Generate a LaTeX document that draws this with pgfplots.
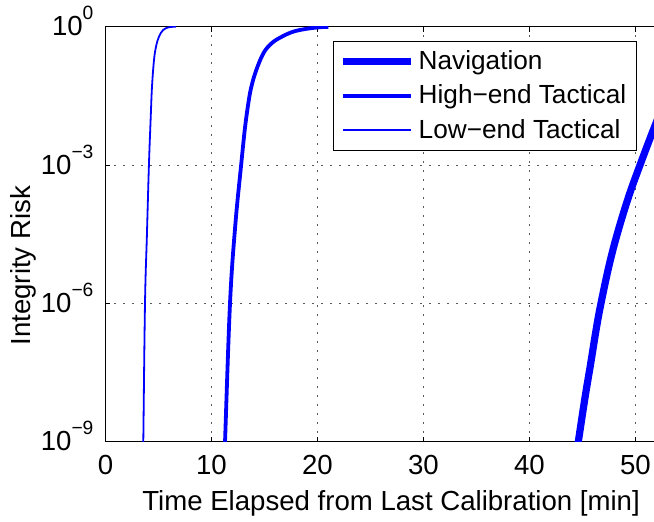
\documentclass[border=0pt]{standalone}
\usepackage{pgfplots}
\pgfplotsset{compat=1.18}
\usepackage{fontspec}
\setmainfont{Liberation Sans}
\newcommand\fs{\fontsize{13.8}{16.5}\selectfont}
\newcommand\sups[1]{\raisebox{8pt}{\fontsize{9.6}{10}\selectfont #1}}
\definecolor{mblue}{RGB}{0,0,255}
\begin{document}
\begin{tikzpicture}
\begin{axis}[
  scale only axis,
  width=286.2pt, height=207.5pt,
  xmin=0, xmax=54,
  ymode=log, ymin=1e-9, ymax=1,
  xtick={0,10,20,30,40,50},
  ytick={1e-9,1e-6,1e-3,1},
  yticklabels={10\sups{−9},10\sups{−6},10\sups{−3},10\sups{0}},
  minor ytick={},
  /pgf/number format/assume math mode=true,
  tick label style={font=\fs},
  xticklabel style={yshift=-3.2pt},
  yticklabel style={anchor=base east, yshift=-4.6pt, xshift=-2.5pt},
  major tick length=2.5pt,
  tick style={black, line width=0.5pt},
  axis line style={line width=0.6pt},
  grid=major,
  major grid style={black!65, line width=0.5pt, dash pattern=on 0.6pt off 3.9pt},
  xlabel={Time Elapsed from Last Calibration [min]},
  ylabel={Integrity Risk},
  label style={font=\fs},
  xlabel style={at={(axis description cs:0.499,-0.148)}, anchor=center},
  ylabel style={at={(axis description cs:-0.144,0.424)}, anchor=center, rotate=0},
  legend style={at={(axis cs:21.46,0.49)}, anchor=north west,
    font=\fontsize{13.1}{15.7}\selectfont,
    draw=black, line width=0.6pt, inner xsep=3pt, inner ysep=2.5pt, row sep=2.2pt,
    cells={anchor=west}},
  legend image code/.code={\draw[#1] (0pt,0pt) -- (31pt,0pt); \path (0pt,0pt) -- (34pt,0pt);},
  clip=true,
]
\addplot[mblue, line width=3.6pt, smooth, tension=0.6] coordinates {
 (43.95,1e-10) (44.61,1e-9) (45.25,9.3e-9) (45.78,5e-8) (46.28,2.6e-7)
 (46.72,9.3e-7) (47.51,6.6e-6) (48.33,3.5e-5) (49.40,2.2e-4) (50.50,1.1e-3)
 (51.69,5.8e-3) (52.6,1.9e-2) (53.5,5.6e-2)
};
\addlegendentry{Navigation}
\addplot[mblue, line width=1.9pt, smooth, tension=0.6] coordinates {
 (11.12,1e-10) (11.28,1e-9) (11.75,1e-6) (12.25,5.0e-5) (12.80,1e-3)
 (13.16,6.3e-3) (13.48,2.19e-2) (13.73,0.046) (14.17,0.105) (14.89,0.263)
 (15.68,0.437) (16.62,0.603) (17.72,0.78) (18.98,0.90) (20.24,0.973) (21.02,0.991)
};
\addlegendentry{High−end Tactical}
\addplot[mblue, line width=0.9pt, smooth, tension=0.6] coordinates {
 (3.517,1e-10) (3.57,1e-9) (3.73,1e-6) (3.91,3e-5) (4.10,1e-3)
 (4.26,9.5e-3) (4.39,0.050) (4.58,0.19) (4.77,0.37) (5.05,0.61)
 (5.45,0.85) (6.0,0.975) (6.65,0.993)
};
\addlegendentry{Low−end Tactical}
\coordinate (BL) at (axis cs:-9.95,1.9e-11);
\coordinate (TR) at (axis cs:51.75,3.79);
\end{axis}
\pgfresetboundingbox
\useasboundingbox (BL) rectangle (TR);
\end{tikzpicture}
\end{document}
